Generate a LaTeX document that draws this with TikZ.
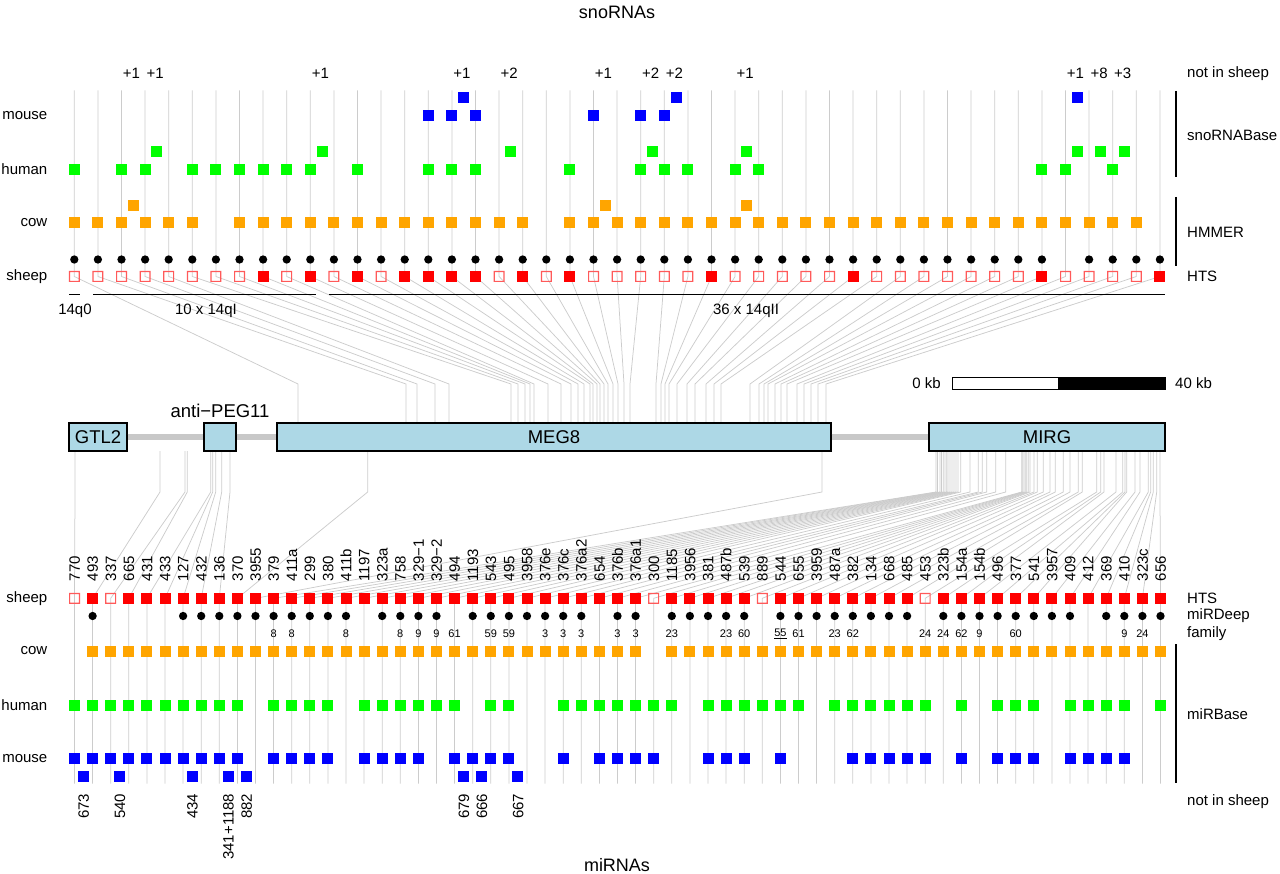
\documentclass[tikz,border=0pt]{standalone}
\usepackage{fontspec}
\setmainfont{Liberation Sans}
\definecolor{cRed}{HTML}{FF0000}
\definecolor{cOpen}{HTML}{FF5A5A}
\definecolor{cOrange}{HTML}{FFA500}
\definecolor{cGreen}{HTML}{00FF00}
\definecolor{cBlue}{HTML}{0000FF}
\definecolor{cLine}{HTML}{CCCCCC}
\definecolor{cGene}{HTML}{ADD8E6}
\definecolor{cBack}{HTML}{C8C8C8}
\begin{document}
\begin{tikzpicture}[x=1pt,y=-1pt,
  conn/.style={draw=cLine, line width=0.75pt},
  sqr/.style={minimum size=11pt, inner sep=0pt, outer sep=0pt, draw=none},
  fsheep/.style={sqr, fill=cRed},
  osheep/.style={sqr},
  ring/.style={fill=cOpen, even odd rule},
  fcow/.style={sqr, fill=cOrange},
  fhuman/.style={sqr, fill=cGreen},
  fmouse/.style={sqr, fill=cBlue},
  dotn/.style={circle, fill=black, minimum size=8.3pt, inner sep=0pt},
  lab/.style={font=\fontsize{15}{18}\selectfont, inner sep=0pt},
  bigtxt/.style={font=\fontsize{18}{21}\selectfont, inner sep=0pt},
  fam/.style={font=\fontsize{11}{13}\selectfont, inner sep=0pt},
  rlab/.style={lab, rotate=90, text height=10.7pt, text depth=0pt},
  brk/.style={line width=1.5pt, draw=black},
  genebox/.style={draw=black, line width=1.2pt, fill=cGene, inner sep=0pt,
    minimum height=28pt, font=\fontsize{18.5}{21}\selectfont},
]
\useasboundingbox (0,0) rectangle (1280,874);

% titles
\node[bigtxt] (tsno) at (617,12) {snoRNAs};
\node[bigtxt] (tmir) at (617,865) {miRNAs};

%%%%%%%%%%%%%%%% snoRNA part %%%%%%%%%%%%%%%%
\foreach \t [count=\c from 0] in {298,406,417,435,449,511,518,525,530,534,548,561,571,578,584,590,593,597,600,604,608,613,618,624,630,656,661,665,669,677,687,695,706,714,721,750,759,764,768,775,781,787,797,804,811,818,826} {
  \pgfmathsetmacro{\xx}{74.3+23.6*\c}
  \coordinate (sT\c) at (\xx,90.5);
  \coordinate (sS\c) at (\xx,276.5);
  \coordinate (sB\c) at (\t,384);
  \coordinate (sG\c) at (\t,423);
  \draw[conn] (sT\c) -- (sS\c) -- (sB\c) -- (sG\c);
}
% sheep (HTS)
\foreach \c in {8,10,12,14,15,16,17,19,21,27,33,41,46}
  \node[fsheep] (sh\c) at (sS\c) {};
\foreach \c in {0,1,...,7,9,11,13,18,20,22,23,...,26,28,29,...,32,34,35,...,40,42,43,44,45} {
  \node[osheep] (sh\c) at (sS\c) {};
  \fill[ring] (sh\c.south west) rectangle (sh\c.north east)
    ([shift={(1.2,-1.2)}]sh\c.south west) rectangle ([shift={(-1.2,1.2)}]sh\c.north east);
}
% dots
\foreach \c in {0,1,...,41,43,44,45,46}
  \node[dotn] (sd\c) at ({74.3+23.6*\c},259.5) {};
% cow
\foreach \c in {0,1,...,5,7,8,...,19,21,22,...,45}
  \node[fcow] (sc\c) at ({74.3+23.6*\c},223) {};
\foreach \c in {2,22,28}
  \node[fcow] (scx\c) at ({74.3+23.6*\c+11.8},205.5) {};
% human
\foreach \c in {0,2,3,5,6,7,8,9,10,12,15,16,17,21,24,25,26,28,29,41,42,44}
  \node[fhuman] (shu\c) at ({74.3+23.6*\c},169.5) {};
\foreach \c in {3,10,18,24,28,42,43,44}
  \node[fhuman] (shux\c) at ({74.3+23.6*\c+11.8},151.5) {};
% mouse
\foreach \c in {15,16,17,22,24,25}
  \node[fmouse] (smo\c) at ({74.3+23.6*\c},116) {};
\foreach \c in {16,25,42}
  \node[fmouse] (smox\c) at ({74.3+23.6*\c+11.8},98) {};
% +N labels
\foreach \c/\n in {2/1,3/1,10/1,16/1,18/2,22/1,24/2,25/2,28/1,42/1,43/8,44/3}
  \node[lab] (spl\c) at ({74.3+23.6*\c+10},73.5) {+\n};
% left labels
\node[lab, anchor=east] (lmo1) at (47.5,116) {mouse};
\node[lab, anchor=east] (lhu1) at (47.5,169.5) {human};
\node[lab, anchor=east] (lco1) at (47.5,223) {cow};
\node[lab, anchor=east] (lsh1) at (47.5,276.5) {sheep};
% right labels
\node[lab, anchor=west] (rnis1) at (1187,74) {not in sheep};
\node[lab, anchor=west] (rsnb) at (1187,135) {snoRNABase};
\node[lab, anchor=west] (rhmm) at (1187,232.5) {HMMER};
\node[lab, anchor=west] (rhts1) at (1187,276.5) {HTS};
\draw[brk] (1176,91) -- (1176,177);
\draw[brk] (1176,197) -- (1176,266);
% clusters
\draw[brk] (69,294.3) -- (80,294.3);
\draw[brk] (93,294.3) -- (316,294.3);
\draw[brk] (329,294.3) -- (1165,294.3);
\node[lab] (cl0) at (75,311) {14q0};
\node[lab] (cl1) at (206,311) {10 x 14qI};
\node[lab] (cl2) at (746,311) {36 x 14qII};

%%%%%%%%%%%%%%%% miRNA connectors %%%%%%%%%%%%%%%%
\foreach \g [count=\c from 0] in {75,160,185,187.3,210.7,212.7,215.7,221.7,230,367.7,822,936,937.5,940,941.5,943.3,945,946.7,948,950,952,954,956,958,960.7,970,978.3,982.3,986.7,995.7,1005.7,1021.7,1022.8,1024,1025.3,1026.7,1028.3,1030,1034,1037.3,1043.3,1050,1055.3,1063.3,1070,1078.3,1082.3,1096.7,1100.7,1104,1116,1122.7,1125,1126.7,1135,1140,1148.3,1150.7,1153.3,1156.7,1160} {
  \pgfmathsetmacro{\xx}{74.5+18.1*\c}
  \coordinate (mG\c) at (\g,451);
  \coordinate (mB\c) at (\g,492);
  \coordinate (mS\c) at (\xx,598.3);
  \coordinate (mE\c) at (\xx,783.5);
  \draw[conn] (mG\c) -- (mB\c) -- (mS\c) -- (mE\c);
}

%%%%%%%%%%%%%%%% genes %%%%%%%%%%%%%%%%
\node[genebox, minimum width=58pt] (gtl2) at (98,437) {GTL2};
\node[genebox, minimum width=32pt] (apeg) at (220,437) {};
\node[genebox, minimum width=554pt] (meg8) at (554,437) {MEG8};
\node[genebox, minimum width=236pt] (mirg) at (1047,437) {MIRG};
\node[font=\fontsize{18.5}{21}\selectfont, inner sep=0pt] (apegl) at (220,410.5) {anti−PEG11};
\draw[cBack, line width=6.5pt] (gtl2.east) -- (apeg.west);
\draw[cBack, line width=6.5pt] (apeg.east) -- (meg8.west);
\draw[cBack, line width=6.5pt] (meg8.east) -- (mirg.west);
% scale bar
\node[lab, anchor=east] (kb0) at (941,383.5) {0 kb};
\node[draw=black, line width=0.8pt, fill=white, minimum width=106pt, minimum height=12pt, inner sep=0pt] (sbw) at (1005,383.5) {};
\node[draw=black, line width=0.8pt, fill=black, minimum width=107pt, minimum height=12pt, inner sep=0pt] (sbb) at (1111.5,383.5) {};
\node[lab, anchor=west] (kb40) at (1175,383.5) {40 kb};

%%%%%%%%%%%%%%%% miRNA part %%%%%%%%%%%%%%%%
\foreach \l [count=\c from 0] in {770,493,337,665,431,433,127,432,136,370,3955,379,411a,299,380,411b,1197,323a,758,329−1,329−2,494,1193,543,495,3958,376e,376c,376a2,654,376b,376a1,300,1185,3956,381,487b,539,889,544,655,3959,487a,382,134,668,485,453,323b,154a,154b,496,377,541,3957,409,412,369,410,323c,656}
  \node[rlab, anchor=west] (ml\c) at ({74.5+18.1*\c},581.5) {\l};
% sheep
\foreach \c in {1,3,4,...,31,33,34,...,37,39,40,...,46,48,49,...,60}
  \node[fsheep] (mh\c) at (mS\c) {};
\foreach \c in {0,2,32,38,47} {
  \node[osheep] (mh\c) at (mS\c) {};
  \fill[ring] (mh\c.south west) rectangle (mh\c.north east)
    ([shift={(1.2,-1.2)}]mh\c.south west) rectangle ([shift={(-1.2,1.2)}]mh\c.north east);
}
% miRDeep dots
\foreach \c in {1,6,7,...,15,17,18,19,20,22,23,...,28,30,31,33,34,...,37,39,40,...,46,48,49,...,55,57,58,59,60}
  \node[dotn] (md\c) at ({74.5+18.1*\c},616) {};
% family
\foreach \c/\n in {11/8,12/8,15/8,18/8,19/9,20/9,21/61,23/59,24/59,26/3,27/3,28/3,30/3,31/3,33/23,36/23,37/60,40/61,42/23,43/62,47/24,48/24,49/62,50/9,52/60,58/9,59/24}
  \node[fam] (mf\c) at ({74.5+18.1*\c},633.5) {\n};
\node[fam] (mf39) at ({74.5+18.1*39},633.5) {\underline{55}};
% cow
\foreach \c in {1,2,...,31,33,34,...,60}
  \node[fcow] (mc\c) at ({74.5+18.1*\c},651) {};
% human
\foreach \c in {0,1,...,9,11,12,13,14,16,17,...,21,23,24,27,28,...,33,35,36,...,40,42,43,...,47,49,51,52,53,55,56,57,58,60}
  \node[fhuman] (mhu\c) at ({74.5+18.1*\c},705) {};
% mouse
\foreach \c in {0,1,...,9,11,12,13,14,16,17,18,19,21,22,23,24,27,29,30,31,32,35,36,37,39,43,44,...,47,49,51,52,53,55,56,57,58}
  \node[fmouse] (mmo\c) at ({74.5+18.1*\c},758.5) {};
% extra mouse, not in sheep
\foreach \c/\l in {0/673,2/540,6/434,8/341+1188,9/882,21/679,22/666,24/667} {
  \node[fmouse] (mmx\c) at ({74.5+18.1*\c+9.05},776.5) {};
  \node[rlab, anchor=east] (mxl\c) at ({74.5+18.1*\c+9.05},793.5) {\l};
}
% left labels
\node[lab, anchor=east] (lsh2) at (47.5,598.3) {sheep};
\node[lab, anchor=east] (lco2) at (47.5,651) {cow};
\node[lab, anchor=east] (lhu2) at (47.5,705) {human};
\node[lab, anchor=east] (lmo2) at (47.5,758.5) {mouse};
% right labels
\node[lab, anchor=west] (rhts2) at (1187,598) {HTS};
\node[lab, anchor=west] (rmd) at (1187,616) {miRDeep};
\node[lab, anchor=west] (rfam) at (1187,633.5) {family};
\node[lab, anchor=west] (rmib) at (1187,714.5) {miRBase};
\node[lab, anchor=west] (rnis2) at (1187,802) {not in sheep};
\draw[brk] (1176,644) -- (1176,783);
\end{tikzpicture}
\end{document}
